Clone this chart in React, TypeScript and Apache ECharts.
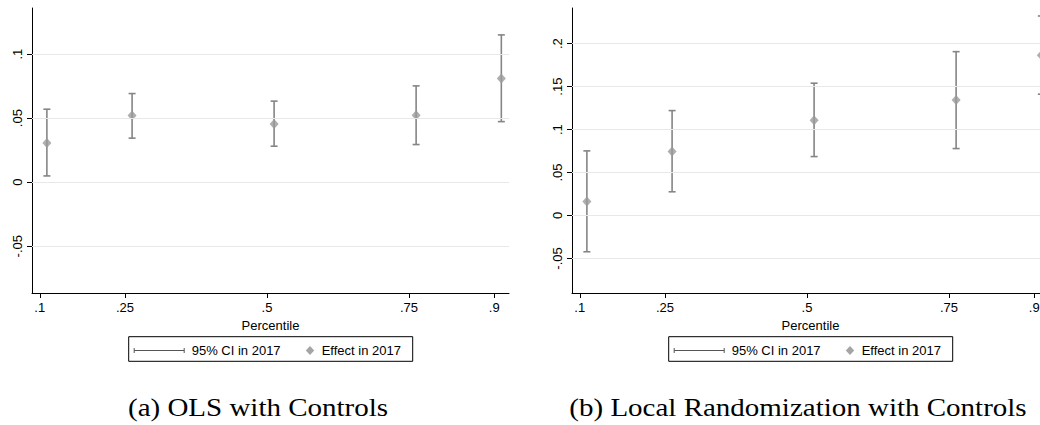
import React, { useEffect, useRef } from "react";
import * as echarts from "echarts";

// Percentile positions (ticks) and plotted positions (offset for 2017 series)
const tickValues = [0.1, 0.25, 0.5, 0.75, 0.9];
const pointX = [0.1125, 0.2625, 0.5125, 0.7625, 0.9125];

// Panel (a): OLS with Controls
const olsEffect = [0.0307, 0.052, 0.0455, 0.0523, 0.0809];
const olsLow = [0.0049, 0.0344, 0.0281, 0.0294, 0.0473];
const olsHigh = [0.057, 0.0692, 0.0633, 0.0752, 0.115];
const olsYTicks = [-0.05, 0, 0.05, 0.1];

// Panel (b): Local Randomization with Controls
const lrEffect = [0.0163, 0.0744, 0.1109, 0.1345, 0.1865];
const lrLow = [-0.0422, 0.0276, 0.0686, 0.0779, 0.1412];
const lrHigh = [0.0752, 0.1221, 0.154, 0.1907, 0.2322];
const lrYTicks = [-0.05, 0, 0.05, 0.1, 0.15, 0.2];

const captions = ["(a) OLS with Controls", "(b) Local Randomization with Controls"];
const legendCI = "95% CI in 2017";
const legendEffect = "Effect in 2017";
const xTitle = "Percentile";

const fmt = (v: number) => {
  const r = Math.round(v * 1000) / 1000;
  if (r === 0) return "0";
  let s = String(r);
  s = s.replace(/^0\./, ".").replace(/^-0\./, "-.");
  return s;
};

const SANS = "Liberation Sans, Arial, sans-serif";
const BAR = "#858585";
const MARK = "#9a9a9a";

export default function App() {
  const ref = useRef<HTMLDivElement>(null);
  useEffect(() => {
    if (!ref.current) return;
    const chart = echarts.init(ref.current, undefined, { renderer: "svg" });

    const panels = [
      { left: 32, yMin: -0.0865, yMax: 0.136, eff: olsEffect, lo: olsLow, hi: olsHigh, yt: olsYTicks },
      { left: 572, yMin: -0.0902, yMax: 0.2415, eff: lrEffect, lo: lrLow, hi: lrHigh, yt: lrYTicks },
    ];

    const grids: any[] = [];
    const xAxes: any[] = [];
    const yAxes: any[] = [];
    const series: any[] = [];
    const graphics: any[] = [];

    panels.forEach((p, i) => {
      grids.push({ left: p.left, top: 8, width: 477, height: 285, outerBoundsMode: "none", containLabel: false });
      xAxes.push({
        type: "value",
        gridIndex: i,
        min: 0.0863,
        max: 0.926,
        axisLine: { show: true, onZero: false, lineStyle: { color: "#000", width: 1 } },
        axisTick: { show: true, customValues: tickValues, length: 5, lineStyle: { color: "#000" } },
        axisLabel: { customValues: tickValues, formatter: fmt, fontFamily: SANS, fontSize: 13, color: "#000", margin: 8 },
        splitLine: { show: false },
        name: xTitle,
        nameLocation: "middle",
        nameGap: 23,
        nameTextStyle: { fontFamily: SANS, fontSize: 13, color: "#000" },
      });
      yAxes.push({
        type: "value",
        gridIndex: i,
        min: p.yMin,
        max: p.yMax,
        axisLine: { show: true, onZero: false, lineStyle: { color: "#000", width: 1 } },
        axisTick: { show: true, customValues: p.yt, length: 5, lineStyle: { color: "#000" } },
        axisLabel: { customValues: p.yt, formatter: fmt, rotate: 90, fontFamily: SANS, fontSize: 13, color: "#000", margin: 8 },
        splitLine: { show: false },
      });

      // gridlines
      series.push({
        type: "line",
        xAxisIndex: i,
        yAxisIndex: i,
        data: [],
        silent: true,
        markLine: {
          silent: true,
          symbol: "none",
          label: { show: false },
          lineStyle: { color: "#e8e8e8", width: 1.2, type: "solid" },
          data: p.yt.map((v) => ({ yAxis: v })),
        },
      });

      // CI bars
      series.push({
        type: "custom",
        xAxisIndex: i,
        yAxisIndex: i,
        data: pointX.map((x, k) => [x, p.lo[k], p.hi[k]]),
        renderItem: (params: any, api: any) => {
          const x = api.value(0);
          const lo = api.coord([x, api.value(1)]);
          const hi = api.coord([x, api.value(2)]);
          const cw = 3.5;
          const style = { stroke: BAR, lineWidth: 1.6 };
          return {
            type: "group",
            children: [
              { type: "line", shape: { x1: lo[0], y1: lo[1], x2: hi[0], y2: hi[1] }, style },
              { type: "line", shape: { x1: lo[0] - cw, y1: lo[1], x2: lo[0] + cw, y2: lo[1] }, style },
              { type: "line", shape: { x1: hi[0] - cw, y1: hi[1], x2: hi[0] + cw, y2: hi[1] }, style },
            ],
          };
        },
        z: 3,
      });

      // effect markers
      series.push({
        type: "scatter",
        xAxisIndex: i,
        yAxisIndex: i,
        symbol: "diamond",
        symbolSize: [9, 10],
        itemStyle: { color: MARK },
        data: pointX.map((x, k) => [x, p.eff[k]]),
        z: 4,
      });

      // legend box
      const bx = p.left + 96.7;
      const by = 336.7;
      const cy = 350.5;
      graphics.push(
        { type: "rect", shape: { x: bx, y: by, width: 284, height: 24.6 }, style: { fill: "#fff", stroke: "#000", lineWidth: 1 } },
        { type: "line", shape: { x1: bx + 5.5, y1: cy, x2: bx + 55.5, y2: cy }, style: { stroke: "#555", lineWidth: 1 } },
        { type: "line", shape: { x1: bx + 5.5, y1: cy - 2.5, x2: bx + 5.5, y2: cy + 2.5 }, style: { stroke: "#555", lineWidth: 1 } },
        { type: "line", shape: { x1: bx + 55.5, y1: cy - 2.5, x2: bx + 55.5, y2: cy + 2.5 }, style: { stroke: "#555", lineWidth: 1 } },
        { type: "text", x: bx + 63, y: cy, style: { text: legendCI, font: `13px ${SANS}`, fill: "#000", verticalAlign: "middle", align: "left" } },
        { type: "polygon", shape: { points: [[bx + 181.3, cy - 4.5], [bx + 185.5, cy], [bx + 181.3, cy + 4.5], [bx + 177.1, cy]] }, style: { fill: "#a5a5a5" } },
        { type: "text", x: bx + 193, y: cy, style: { text: legendEffect, font: `13px ${SANS}`, fill: "#000", verticalAlign: "middle", align: "left" } },
      );
    });

    graphics.push(
      { type: "text", x: 258, y: 408, scaleX: 1.16, style: { text: captions[0], font: `25px "Liberation Serif", serif`, fill: "#000", align: "center", verticalAlign: "middle" } },
      { type: "text", x: 798, y: 408, scaleX: 1.16, style: { text: captions[1], font: `25px "Liberation Serif", serif`, fill: "#000", align: "center", verticalAlign: "middle" } },
    );

    chart.setOption({
      animation: false,
      backgroundColor: "#fff",
      grid: grids,
      xAxis: xAxes,
      yAxis: yAxes,
      series,
      graphic: graphics,
    });
    return () => chart.dispose();
  }, []);

  return <div ref={ref} style={{ position: "absolute", left: 0, top: 0, width: 1040, height: 425 }} />;
}
